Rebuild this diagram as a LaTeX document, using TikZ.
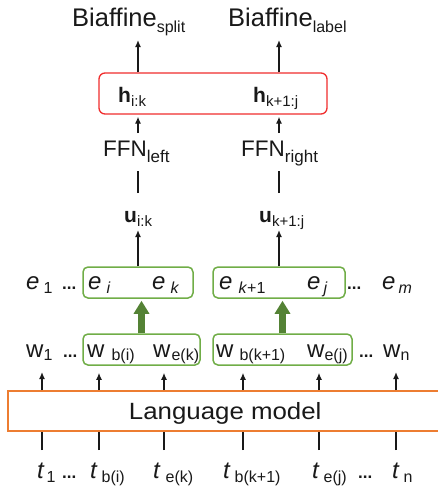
\documentclass[tikz,border=0pt]{standalone}
\usepackage{fontspec}
\setmainfont{Liberation Sans}
\usetikzlibrary{arrows.meta,calc}
\definecolor{redb}{RGB}{240,45,45}
\definecolor{greenb}{RGB}{112,173,71}
\definecolor{greena}{RGB}{84,130,53}
\definecolor{orangeb}{RGB}{237,125,49}
\definecolor{txt}{RGB}{25,25,25}
\newcommand\sbx[3]{\raisebox{-#1pt}{\fontsize{#2}{#2}\selectfont #3}}
\begin{document}
\begin{tikzpicture}[x=1pt,y=-1pt,
  lab/.style={inner sep=0pt, anchor=base west, text=txt},
  fbig/.style={font=\fontsize{24}{24}\selectfont},
  fbia/.style={font=\fontsize{25.5}{25.5}\selectfont},
  fffn/.style={font=\fontsize{22.5}{22.5}\selectfont},
  fbold/.style={font=\fontsize{21}{21}\selectfont\bfseries},
  fdots/.style={font=\fontsize{17}{17}\selectfont\bfseries},
  arr/.style={draw=txt, line width=1.3pt, -{Latex[length=7pt,width=6pt]}},
  ln/.style={draw=txt, line width=1.3pt},
  gbox/.style={draw=greenb, line width=1.5pt, rounded corners=5pt, inner sep=0pt, minimum height=31pt},
  fatarr/.style={draw=greena, line width=7pt, -{Triangle[length=13pt,width=15pt]}},
]
\useasboundingbox (0,0) rectangle (438,491);

% columns
\coordinate (cL) at (138,0);
\coordinate (cR) at (279,0);
\coordinate (c1) at (42,0);
\coordinate (c2) at (99,0);
\coordinate (c3) at (164,0);
\coordinate (c4) at (243,0);
\coordinate (c5) at (319,0);
\coordinate (c6) at (396,0);

% top labels
\node[lab, fbia] (bsplit) at (72,26) {Biaffine\sbx{6}{16}{split}};
\node[lab, fbia] (blabel) at (228,26) {Biaffine\sbx{6}{16}{label}};

% h box
\node[draw=redb, line width=1.3pt, rounded corners=6pt, minimum width=228pt, minimum height=41pt, inner sep=0pt] (hbox) at (213,93.5) {};
\node[lab, fbold] (hik) at (118,102) {h\sbx{4}{15}{\mdseries i:k}};
\node[lab, fbold] (hkj) at (253,102) {h\sbx{4}{15}{\mdseries k+1:j}};

% FFN
\node[lab, fffn] (ffnL) at (103,156) {FFN\sbx{6}{17}{left}};
\node[lab, fffn] (ffnR) at (241,156) {FFN\sbx{6}{17}{right}};

% u
\node[lab, fbold] (uik) at (124,222) {u\sbx{4}{15}{\mdseries i:k}};
\node[lab, fbold] (ukj) at (259,222) {u\sbx{4}{15}{\mdseries k+1:j}};

% e row
\node[gbox, minimum width=110pt] (eL) at (138,282.5) {};
\node[gbox, minimum width=132pt] (eR) at (279,282.5) {};
\node[lab, fbig] (e1) at (26,289) {\textit{e}\kern4pt\sbx{4}{16}{1}};
\node[lab, fdots] (ed1) at (62,289) {...};
\node[lab, fbig] (ei) at (88,289) {\textit{e}\kern5pt\sbx{4}{16}{\textit{i}}};
\node[lab, fbig] (ek) at (152,289) {\textit{e}\kern5pt\sbx{4}{16}{\textit{k}}};
\node[lab, fbig] (ek1) at (219,289) {\textit{e}\kern6pt\sbx{4}{16}{\textit{k}+1}};
\node[lab, fbig] (ej) at (307,289) {\textit{e}\kern3pt\sbx{4}{16}{\textit{j}}};
\node[lab, fdots] (ed2) at (347,289) {...};
\node[lab, fbig] (em) at (382,289) {\textit{e}\kern3pt\sbx{4}{16}{\textit{m}}};

% w row
\node[gbox, minimum width=117pt] (wL) at (141.5,349.5) {};
\node[gbox, minimum width=139pt] (wR) at (282.5,349.5) {};
\node[lab, fbig] (w1) at (26,357) {w\sbx{3}{16}{1}};
\node[lab, fdots] (wd1) at (63,357) {...};
\node[lab, fbig] (wbi) at (87,357) {w\kern7pt\sbx{3}{16}{b(i)}};
\node[lab, fbig] (wek) at (153,357) {w\kern1pt\sbx{3}{16}{e(k)}};
\node[lab, fbig] (wbk) at (216,357) {w\kern6pt\sbx{3}{16}{b(k+1)}};
\node[lab, fbig] (wej) at (307,357) {w\sbx{3}{16}{e(j)}};
\node[lab, fdots] (wd2) at (359,357) {...};
\node[lab, fbig] (wn) at (383,357) {w\sbx{3}{16}{n}};

% language model
\node[draw=orangeb, line width=1.5pt, minimum width=435pt, minimum height=40pt, inner sep=0pt, anchor=north west, text depth=0pt, text=txt, font=\fontsize{23.5}{23.5}\selectfont] (lm) at (7,390) {\scalebox{1.1}[1]{Language model}};

% t row
\node[lab, fbig] (t1) at (37,478) {\textit{t}\kern2pt\sbx{4}{16}{1}};
\node[lab, fdots] (td1) at (62,478) {...};
\node[lab, fbig] (tbi) at (90,478) {\textit{t}\kern4pt\sbx{4}{16}{b(i)}};
\node[lab, fbig] (tek) at (153,478) {\textit{t}\kern5pt\sbx{4}{16}{e(k)}};
\node[lab, fbig] (tbk) at (223,478) {\textit{t}\kern4pt\sbx{4}{16}{b(k+1)}};
\node[lab, fbig] (tej) at (312,478) {\textit{t}\kern4pt\sbx{4}{16}{e(j)}};
\node[lab, fdots] (td2) at (358,478) {...};
\node[lab, fbig] (tn) at (392,478) {\textit{t}\kern4pt\sbx{4}{16}{n}};

% connectors top
\draw[arr, shorten >=14pt] (cL |- hbox.north) -- (cL |- bsplit.base);
\draw[arr, shorten >=14pt] (cR |- hbox.north) -- (cR |- blabel.base);
\draw[arr, shorten <=23pt, shorten >=2pt] (cL |- ffnL.base) -- (cL |- hbox.south);
\draw[arr, shorten <=23pt, shorten >=2pt] (cR |- ffnR.base) -- (cR |- hbox.south);
\draw[ln, shorten <=29pt, shorten >=15pt] (cL |- uik.base) -- (cL |- ffnL.base);
\draw[ln, shorten <=29pt, shorten >=15pt] (cR |- ukj.base) -- (cR |- ffnR.base);
\draw[arr, shorten >=8pt] (cL |- eL.north) -- (cL |- uik.base);
\draw[arr, shorten >=8pt] (cR |- eR.north) -- (cR |- ukj.base);

% thick green arrows
\draw[fatarr, shorten >=2pt] (wL.north) -- (wL.north |- eL.south);
\draw[fatarr, shorten >=2pt] (wR.north) -- (wR.north |- eR.south);

% LM to w
\draw[arr, shorten >=15pt] (c1 |- lm.north) -- (c1 |- w1.base);
\draw[arr, shorten >=7pt] (c2 |- lm.north) -- (c2 |- wL.south);
\draw[arr, shorten >=7pt] (c3 |- lm.north) -- (c3 |- wL.south);
\draw[arr, shorten >=7pt] (c4 |- lm.north) -- (c4 |- wR.south);
\draw[arr, shorten >=7pt] (c5 |- lm.north) -- (c5 |- wR.south);
\draw[arr, shorten >=15pt] (c6 |- lm.north) -- (c6 |- wn.base);

% t to LM
\draw[ln, shorten <=28pt] (c1 |- t1.base) -- (c1 |- lm.south);
\draw[ln, shorten <=28pt] (c2 |- tbi.base) -- (c2 |- lm.south);
\draw[ln, shorten <=28pt] (c3 |- tek.base) -- (c3 |- lm.south);
\draw[ln, shorten <=28pt] (c4 |- tbk.base) -- (c4 |- lm.south);
\draw[ln, shorten <=28pt] (c5 |- tej.base) -- (c5 |- lm.south);
\draw[ln, shorten <=28pt] (c6 |- tn.base) -- (c6 |- lm.south);
\end{tikzpicture}
\end{document}
